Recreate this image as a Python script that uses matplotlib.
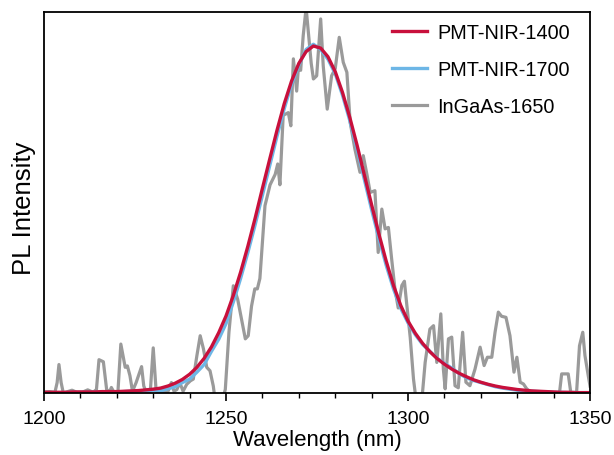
import numpy as np
import matplotlib
matplotlib.use("Agg")
from matplotlib import pyplot as plt
from matplotlib.ticker import MultipleLocator

plt.rcParams['font.family'] = ['Liberation Sans', 'DejaVu Sans']

# smooth spectra, sampled every 2 nm
wl_fit = np.arange(1200, 1351, 2)
pmt_1400 = [0.002, 0.002, 0.002, 0.002, 0.003, 0.003, 0.003, 0.003, 0.004, 0.004,
            0.004, 0.005, 0.006, 0.007, 0.009, 0.011, 0.014, 0.020, 0.028, 0.039,
            0.054, 0.074, 0.100, 0.133, 0.174, 0.222, 0.281, 0.348, 0.423, 0.504,
            0.590, 0.674, 0.757, 0.834, 0.899, 0.950, 0.984, 1.000, 0.994, 0.969,
            0.926, 0.866, 0.794, 0.714, 0.628, 0.542, 0.458, 0.380, 0.310, 0.252,
            0.207, 0.172, 0.143, 0.119, 0.099, 0.083, 0.069, 0.057, 0.047, 0.038,
            0.031, 0.025, 0.020, 0.016, 0.013, 0.010, 0.008, 0.006, 0.005, 0.004,
            0.003, 0.002, 0.002, 0.001, 0.001, 0.001]
pmt_1700 = [0.001, 0.001, 0.001, 0.001, 0.002, 0.002, 0.002, 0.002, 0.003, 0.003,
            0.003, 0.004, 0.005, 0.006, 0.006, 0.008, 0.006, 0.012, 0.018, 0.030,
            0.040, 0.060, 0.082, 0.120, 0.155, 0.200, 0.262, 0.330, 0.405, 0.485,
            0.570, 0.655, 0.740, 0.820, 0.890, 0.945, 0.990, 1.005, 0.990, 0.962,
            0.920, 0.858, 0.785, 0.703, 0.615, 0.528, 0.445, 0.368, 0.300, 0.244,
            0.202, 0.168, 0.140, 0.120, 0.100, 0.085, 0.072, 0.056, 0.044, 0.036,
            0.030, 0.024, 0.018, 0.014, 0.011, 0.008, 0.006, 0.005, 0.004, 0.003,
            0.002, 0.002, 0.001, 0.001, 0.001, 0.001]

# noisy InGaAs spectrum
gray_wl = [1200.0, 1201.5, 1203.0, 1203.6, 1204.1, 1204.7, 1205.3, 1206.5, 1207.7, 1209.0,
           1210.5, 1212.0, 1213.5, 1214.4, 1215.1, 1216.3, 1217.2, 1218.0, 1218.5, 1219.3,
           1220.3, 1221.1, 1222.3, 1222.9, 1223.6, 1224.3, 1225.3, 1226.8, 1227.4, 1228.2,
           1229.2, 1230.0, 1230.8, 1231.8, 1233.0, 1234.0, 1235.0, 1235.7, 1236.5, 1237.3,
           1238.2, 1239.2, 1240.2, 1241.0, 1242.0, 1242.9, 1243.8, 1244.7, 1245.6, 1246.5,
           1247.0, 1249.0, 1249.8, 1250.8, 1252.0, 1253.2, 1254.2, 1255.3, 1256.1, 1257.0,
           1257.9, 1258.6, 1259.3, 1260.7, 1262.1, 1263.5, 1264.2, 1264.8, 1265.7, 1267.1,
           1267.8, 1268.5, 1269.4, 1269.9, 1270.5, 1271.2, 1272.0, 1272.6, 1273.4, 1274.0,
           1274.9, 1276.0, 1276.7, 1277.8, 1279.0, 1280.0, 1281.1, 1282.2, 1283.2, 1284.1,
           1285.4, 1286.8, 1287.7, 1288.7, 1289.6, 1290.9, 1291.8, 1292.8, 1293.7, 1294.6,
           1295.5, 1296.4, 1297.3, 1298.3, 1299.0, 1299.6, 1300.6, 1301.5, 1302.2, 1303.8,
           1304.7, 1306.0, 1307.0, 1307.9, 1309.0, 1309.7, 1310.2, 1311.1, 1312.0, 1312.9,
           1313.8, 1315.0, 1315.9, 1317.0, 1318.4, 1319.8, 1320.9, 1321.8, 1323.0, 1323.9,
           1324.8, 1325.7, 1326.9, 1328.0, 1329.1, 1329.9, 1330.8, 1331.7, 1332.6, 1334.0,
           1336.0, 1338.0, 1340.0, 1341.6, 1342.2, 1344.0, 1344.7, 1346.3, 1347.1, 1348.0,
           1348.6, 1349.5, 1350.0]
ingaas_1650 = [0.003, 0.004, 0.002, 0.030, 0.082, 0.030, 0.000, 0.004, 0.008, 0.002,
               0.002, 0.009, 0.002, 0.010, 0.096, 0.090, 0.010, 0.003, 0.016, 0.000,
               0.003, 0.141, 0.074, 0.078, 0.050, 0.005, 0.030, 0.076, 0.020, 0.000,
               0.005, 0.130, 0.005, 0.000, 0.004, 0.003, 0.030, 0.005, 0.010, 0.030,
               0.005, 0.025, 0.035, 0.040, 0.108, 0.165, 0.127, 0.074, 0.064, 0.020,
               -0.020, -0.020, 0.010, 0.175, 0.309, 0.270, 0.215, 0.156, 0.165, 0.250,
               0.300, 0.300, 0.330, 0.540, 0.600, 0.630, 0.660, 0.600, 0.800, 0.808,
               0.770, 0.963, 0.870, 0.940, 0.930, 1.030, 1.110, 1.040, 0.950, 0.905,
               0.914, 1.078, 0.943, 0.818, 0.914, 0.935, 1.025, 0.953, 0.924, 0.780,
               0.703, 0.636, 0.684, 0.630, 0.578, 0.583, 0.405, 0.530, 0.473, 0.477,
               0.386, 0.300, 0.245, 0.310, 0.322, 0.260, 0.160, 0.040, -0.020, -0.020,
               0.088, 0.184, 0.194, 0.088, 0.228, 0.069, 0.012, 0.156, 0.161, 0.021,
               0.015, 0.175, 0.031, 0.021, 0.069, 0.132, 0.079, 0.103, 0.103, 0.175,
               0.233, 0.221, 0.218, 0.165, 0.060, 0.103, 0.031, 0.026, 0.012, 0.000,
               0.000, 0.002, 0.000, 0.000, 0.055, 0.055, 0.002, 0.002, 0.136, 0.175,
               0.108, 0.050, 0.020]

c_red = '#c8103c'
c_blue = '#6db6e6'
c_gray = '#9a9a9a'

fig = plt.figure(figsize=(6.14, 4.56), dpi=100)
ax = fig.add_axes([0.0717, 0.136, 0.8893, 0.8355])

l3, = ax.plot(gray_wl, ingaas_1650, color=c_gray, lw=2.3, label='InGaAs-1650')
l2, = ax.plot(wl_fit, pmt_1700, color=c_blue, lw=2.4, label='PMT-NIR-1700')
l1, = ax.plot(wl_fit, pmt_1400, color=c_red, lw=2.4, label='PMT-NIR-1400')

ax.set_xlim(1200, 1350)
ax.set_ylim(0, 1.098)
ax.xaxis.set_major_locator(MultipleLocator(50))
ax.xaxis.set_minor_locator(MultipleLocator(10))
ax.tick_params(axis='x', which='major', direction='out', length=6, width=1.2,
               labelsize=14, pad=6)
ax.tick_params(axis='x', which='minor', direction='out', length=3.5, width=1.0)
ax.set_yticks([])
for s in ax.spines.values():
    s.set_linewidth(1.3)

ax.set_xlabel('Wavelength (nm)', fontsize=16, labelpad=2)
ax.set_ylabel('PL Intensity', fontsize=18.5)
ax.yaxis.set_label_coords(-0.014, 0.488)

ax.legend(handles=[l1, l2, l3], loc='upper right', bbox_to_anchor=(0.963, 0.972),
          frameon=False, fontsize=14.3, handlelength=1.8, handletextpad=0.5,
          labelspacing=0.92, borderpad=0, borderaxespad=0)

fig.savefig('out.png', dpi=100)
